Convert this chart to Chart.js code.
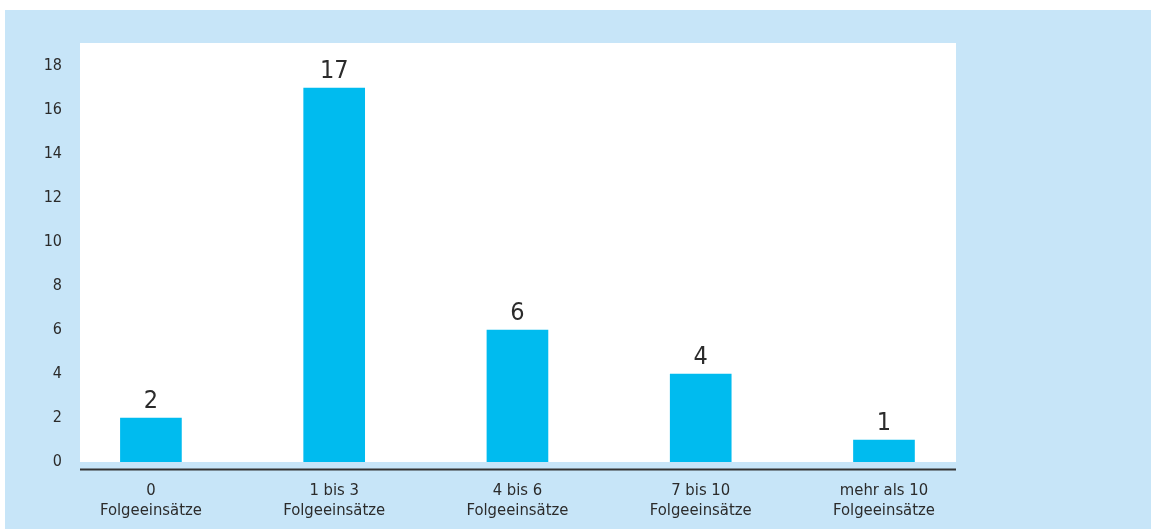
<!DOCTYPE html>
<html>
<head>
<meta charset="utf-8">
<script src="https://cdn.jsdelivr.net/npm/chart.js@4/dist/chart.umd.min.js"></script>
<style>
  html, body { margin: 0; padding: 0; background: #fff; }
  #wrap { width: 1151px; height: 529px; }
</style>
</head>
<body>
<div id="wrap"><canvas id="chart"></canvas></div>
<script>
const categories = [
  ["0", "Folgeeinsätze"],
  ["1 bis 3", "Folgeeinsätze"],
  ["4 bis 6", "Folgeeinsätze"],
  ["7 bis 10", "Folgeeinsätze"],
  ["mehr als 10", "Folgeeinsätze"],
];
const counts = [2, 17, 6, 4, 1];
const yTicks = [0, 2, 4, 6, 8, 10, 12, 14, 16, 18];

const FONT = "'Liberation Sans Narrow', 'DejaVu Sans Condensed', sans-serif";
const BLUE_BG = "#c7e5f8";
const BAR = "#00bbef";
const TEXT = "#2b2b2b";

const backdrop = {
  id: "backdrop",
  beforeDraw(chart) {
    const { ctx, chartArea: a } = chart;
    ctx.save();
    ctx.fillStyle = "#fff";
    ctx.fillRect(0, 0, chart.width, chart.height);
    ctx.fillStyle = BLUE_BG;
    ctx.fillRect(5, 10, chart.width - 5, chart.height - 10);
    ctx.fillStyle = "#fff";
    ctx.fillRect(a.left, a.top, a.right - a.left, a.bottom - a.top);
    ctx.restore();
  },
  afterDraw(chart) {
    const { ctx, chartArea: a } = chart;
    ctx.save();
    ctx.strokeStyle = "#333";
    ctx.lineWidth = 2;
    ctx.beginPath();
    ctx.moveTo(a.left, a.bottom + 7.5);
    ctx.lineTo(a.right, a.bottom + 7.5);
    ctx.stroke();
    ctx.restore();
  },
};

const valueLabels = {
  id: "valueLabels",
  afterDatasetsDraw(chart) {
    const { ctx } = chart;
    const meta = chart.getDatasetMeta(0);
    ctx.save();
    ctx.font = "25px " + FONT;
    ctx.fillStyle = TEXT;
    ctx.textAlign = "center";
    ctx.textBaseline = "alphabetic";
    meta.data.forEach((bar, i) => {
      ctx.fillText(String(counts[i]), bar.x, bar.y - 10);
    });
    ctx.restore();
  },
};

new Chart(document.getElementById("chart"), {
  type: "bar",
  data: {
    datasets: [
      {
        data: counts.map((v, i) => ({ x: i, y: v })),
        backgroundColor: BAR,
        barThickness: 61,
      },
    ],
  },
  options: {
    responsive: true,
    maintainAspectRatio: false,
    animation: false,
    devicePixelRatio: 1,
    layout: { padding: { top: 43, right: 195, bottom: 0, left: 0 } },
    plugins: {
      legend: { display: false },
      tooltip: { enabled: false },
    },
    scales: {
      x: {
        type: "linear",
        offset: false,
        bounds: "data",
        min: -0.387,
        max: 4.393,
        grid: { display: false, offset: false },
        border: { display: false },
        afterFit: (scale) => { scale.height = 67; },
        afterBuildTicks: (scale) => {
          scale.ticks = categories.map((c, i) => ({ value: i }));
        },
        ticks: {
          padding: 10,
          maxRotation: 0,
          autoSkip: false,
          includeBounds: false,
          color: TEXT,
          font: { family: FONT, size: 16.5, lineHeight: 1.25 },
          callback: (v) => categories[v],
        },
      },
      y: {
        min: 0,
        max: 19.05,
        grid: { display: false, drawTicks: false },
        border: { display: false },
        afterFit: (scale) => { scale.width = 80; },
        afterBuildTicks: (scale) => {
          scale.ticks = yTicks.map((v) => ({ value: v }));
        },
        ticks: {
          padding: 18,
          color: TEXT,
          font: { family: FONT, size: 16 },
        },
      },
    },
  },
  plugins: [backdrop, valueLabels],
});
</script>
</body>
</html>
